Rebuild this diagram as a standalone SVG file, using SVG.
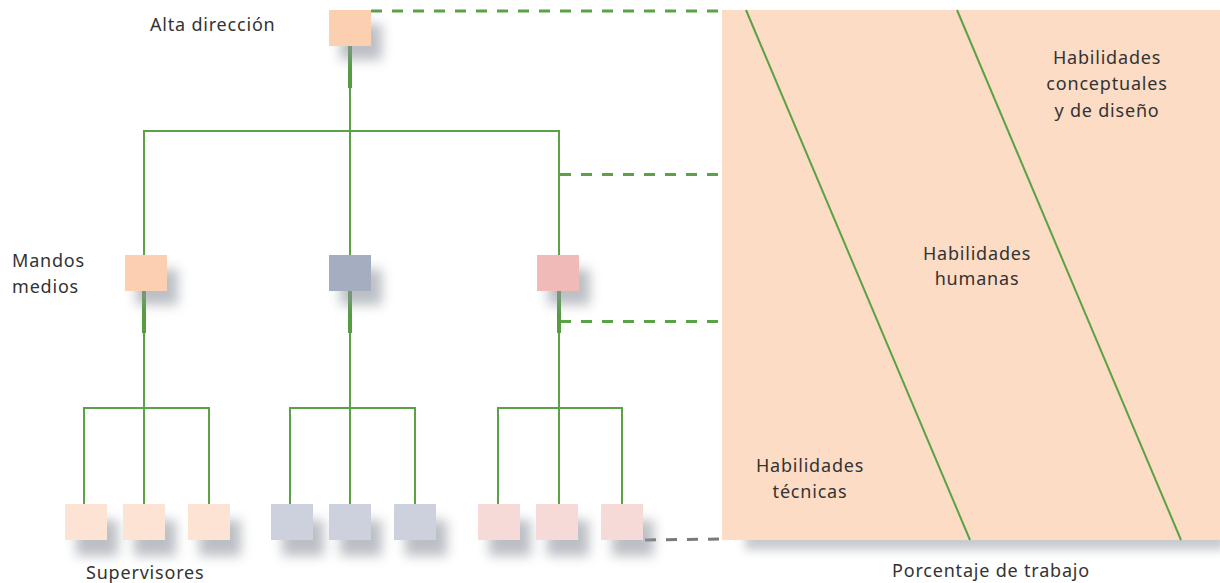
<svg xmlns="http://www.w3.org/2000/svg" width="1220" height="583" viewBox="0 0 1220 583">
<style>
.t{font-family:"Noto Sans","DejaVu Sans",sans-serif;font-size:18px;letter-spacing:0.8px;fill:#333;}
.m{text-anchor:middle;}
.g{stroke:#5BA145;fill:none;stroke-width:2;}
.gt{stroke:#569C40;fill:none;stroke-width:4;}
.d{stroke:#5BA145;fill:none;stroke-width:3;stroke-dasharray:11 10;}
.sh{fill:#8f959e;opacity:0.6;filter:url(#blur);}
</style>
<defs>
<filter id="blur" x="-50%" y="-50%" width="200%" height="200%"><feGaussianBlur stdDeviation="6"/></filter>
<filter id="blur2" x="-10%" y="-100%" width="120%" height="300%"><feGaussianBlur stdDeviation="5"/></filter>
</defs>
<rect width="1220" height="583" fill="#fff"/>
<g id="panel">
<rect x="745" y="530" width="480" height="20" fill="#9aa0a8" opacity="0.55" filter="url(#blur2)"/>
<rect x="722" y="10" width="498" height="530" fill="#FCDCC5"/>
<line class="g" x1="746" y1="10" x2="970" y2="540"/>
<line class="g" x1="957" y1="10" x2="1181" y2="540"/>
<text class="t m" x="1107" y="64">Habilidades</text>
<text class="t m" x="1107" y="90">conceptuales</text>
<text class="t m" x="1107" y="117">y de diseño</text>
<text class="t m" x="977" y="260">Habilidades</text>
<text class="t m" x="977" y="285">humanas</text>
<text class="t m" x="810" y="472">Habilidades</text>
<text class="t m" x="810" y="498">técnicas</text>
<text class="t m" x="991" y="577">Porcentaje de trabajo</text>
</g>
<g id="connectors">
<line class="d" x1="371" y1="11" x2="722" y2="11"/>
<line class="d" x1="560" y1="174.5" x2="722" y2="174.5"/>
<line class="d" x1="560" y1="321.5" x2="722" y2="321.5"/>
<line x1="645" y1="540" x2="722" y2="539" stroke="#7a7a7a" stroke-width="3" stroke-dasharray="11 10"/>
<line class="gt" x1="350" y1="46" x2="350" y2="88"/>
<line class="g" x1="350" y1="88" x2="350" y2="255"/>
<polyline class="g" points="144,255 144,131 559,131 559,255"/>
<line class="gt" x1="144" y1="291" x2="144" y2="333"/>
<line class="gt" x1="350" y1="291" x2="350" y2="333"/>
<line class="gt" x1="559" y1="291" x2="559" y2="333"/>
<line class="g" x1="144" y1="333" x2="144" y2="504"/>
<line class="g" x1="350" y1="333" x2="350" y2="504"/>
<line class="g" x1="559" y1="333" x2="559" y2="504"/>
<polyline class="g" points="84,504 84,408 209,408 209,504"/>
<polyline class="g" points="290,504 290,408 415,408 415,504"/>
<polyline class="g" points="498,504 498,408 622,408 622,504"/>
</g>
<g id="alta">
<rect class="sh" x="340" y="24" width="42" height="36"/>
<rect x="329" y="10" width="42" height="36" fill="#FBCFAF"/>
<text class="t" x="150" y="31">Alta dirección</text>
</g>
<g id="medio1">
<rect class="sh" x="136" y="269" width="42" height="36"/>
<rect x="125" y="255" width="42" height="36" fill="#FBCFAF"/>
</g>
<g id="medio2">
<rect class="sh" x="340" y="269" width="42" height="36"/>
<rect x="329" y="255" width="42" height="36" fill="#A5ADC1"/>
</g>
<g id="medio3">
<rect class="sh" x="548" y="269" width="42" height="36"/>
<rect x="537" y="255" width="42" height="36" fill="#F0BAB8"/>
</g>
<g id="mandos-label">
<text class="t" x="12" y="267">Mandos</text>
<text class="t" x="12" y="293">medios</text>
</g>
<g id="sup1"><rect class="sh" x="76" y="520" width="42" height="36"/><rect x="65" y="504" width="42" height="36" fill="#FDE3D3"/></g>
<g id="sup2"><rect class="sh" x="134" y="520" width="42" height="36"/><rect x="123" y="504" width="42" height="36" fill="#FDE3D3"/></g>
<g id="sup3"><rect class="sh" x="199" y="520" width="42" height="36"/><rect x="188" y="504" width="42" height="36" fill="#FDE3D3"/></g>
<g id="sup4"><rect class="sh" x="282" y="520" width="42" height="36"/><rect x="271" y="504" width="42" height="36" fill="#CCD1DD"/></g>
<g id="sup5"><rect class="sh" x="340" y="520" width="42" height="36"/><rect x="329" y="504" width="42" height="36" fill="#CCD1DD"/></g>
<g id="sup6"><rect class="sh" x="405" y="520" width="42" height="36"/><rect x="394" y="504" width="42" height="36" fill="#CCD1DD"/></g>
<g id="sup7"><rect class="sh" x="489" y="520" width="42" height="36"/><rect x="478" y="504" width="42" height="36" fill="#F6DAD7"/></g>
<g id="sup8"><rect class="sh" x="547" y="520" width="42" height="36"/><rect x="536" y="504" width="42" height="36" fill="#F6DAD7"/></g>
<g id="sup9"><rect class="sh" x="612" y="520" width="42" height="36"/><rect x="601" y="504" width="42" height="36" fill="#F6DAD7"/></g>
<g id="sup-label"><text class="t" x="86" y="579">Supervisores</text></g>
</svg>
